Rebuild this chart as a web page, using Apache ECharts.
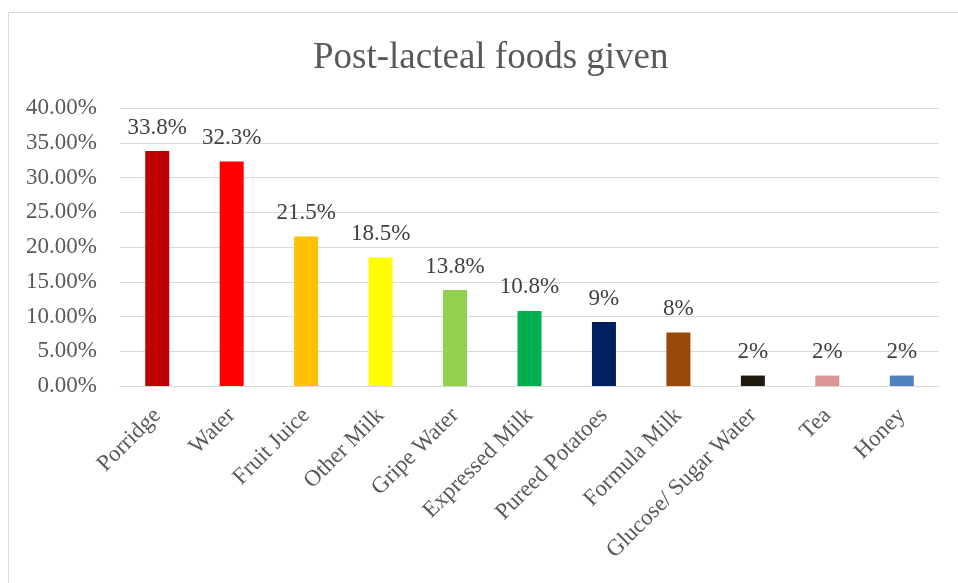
<!DOCTYPE html>
<html>
<head>
<meta charset="utf-8">
<script src="https://cdn.jsdelivr.net/npm/echarts@6/dist/echarts.min.js"></script>
<style>html,body{margin:0;padding:0;background:#fff}#c{width:958px;height:583px}</style>
</head>
<body>
<div id="c"></div>
<script>
const categories = ['Porridge','Water','Fruit Juice','Other Milk','Gripe Water','Expressed Milk','Pureed Potatoes','Formula Milk','Glucose/ Sugar Water','Tea','Honey'];
const values = [33.8, 32.3, 21.5, 18.5, 13.8, 10.8, 9.2, 7.7, 1.5, 1.5, 1.5];
const valueLabels = ['33.8%','32.3%','21.5%','18.5%','13.8%','10.8%','9%','8%','2%','2%','2%'];
const barColors = ['#C00000','#FF0000','#FFC000','#FFFF00','#92D050','#00B050','#002060','#984807','#1D1B10','#D99694','#4F81BD'];
const yTicks = [0,5,10,15,20,25,30,35,40];

const chart = echarts.init(document.getElementById('c'));
const serif = '"Liberation Serif", "Times New Roman", serif';
chart.setOption({
  animation: false,
  title: {
    text: 'Post-lacteal foods given',
    left: 308, top: 35,
    textStyle: { fontFamily: serif, fontSize: 37, fontWeight: 'normal', color: '#595959' }
  },
  graphic: [{
    type: 'rect', shape: { x: 8.5, y: 12.5, width: 1000, height: 600 },
    style: { fill: 'none', stroke: '#D9D9D9', lineWidth: 1 }, silent: true
  }],
  grid: { left: 120, right: 19, top: 108, bottom: 197, containLabel: false },
  xAxis: {
    type: 'category', data: categories,
    axisLine: { show: true, lineStyle: { color: '#D9D9D9', width: 1 } },
    axisTick: { show: false },
    axisLabel: { rotate: 45, margin: 26, interval: 0, fontFamily: serif, fontSize: 23, color: '#595959' }
  },
  yAxis: {
    type: 'value', min: 0, max: 40, interval: 5,
    axisLine: { show: false }, axisTick: { show: false },
    splitLine: { lineStyle: { color: '#D9D9D9', width: 1 } },
    axisLabel: { margin: 23, fontFamily: serif, fontSize: 23, color: '#595959',
      formatter: v => yTicks.includes(v) ? v.toFixed(2) + '%' : '' }
  },
  series: [{
    type: 'bar', barWidth: 24,
    data: values.map((v, i) => ({ value: v, itemStyle: { color: barColors[i] } })),
    label: {
      show: true, position: 'top', distance: 12,
      fontFamily: serif, fontSize: 23, color: '#404040',
      formatter: p => valueLabels[p.dataIndex]
    }
  }]
});
</script>
</body>
</html>
